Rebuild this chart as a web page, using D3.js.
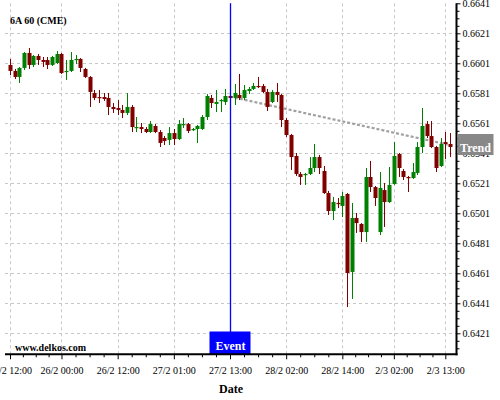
<!DOCTYPE html>
<html><head><meta charset="utf-8">
<script src="https://cdnjs.cloudflare.com/ajax/libs/d3/7.8.5/d3.min.js"></script>
<style>
body{margin:0;background:#fff}
svg{display:block}
text{font-family:"Liberation Serif","Times New Roman",serif}
</style>
</head><body>
<svg id="c" width="500" height="400"></svg>
<script>
// ---- data (hourly candles, index 0..94) ----
const openV=[.65999,.65959,.65919,.65979,.66079,.65999,.66059,.66032,.66032,.65999,
.66012,.66072,.65952,.65959,.66032,.66039,.65972,.65919,.65812,.65785,
.65785,.65779,.65719,.65712,.65699,.65679,.65719,.65579,.65585,.65572,
.65552,.65592,.65552,.65512,.65499,.65545,.65505,.65599,.65605,.65565,
.65572,.65572,.65652,.65779,.65739,.65759,.65752,.65792,.65779,.65799,
.65779,.65825,.65839,.65859,.65859,.65819,.65752,.65819,.65799,.65632,
.65532,.65392,.65272,.65265,.65272,.65312,.65385,.65292,.65145,.65025,
.65079,.65059,.65139,.64619,.64979,.64939,.64885,.65252,.65185,.64885,
.65165,.65085,.65205,.65405,.65292,.65252,.65245,.65279,.65452,.65605,
.65525,.65452,.65325,.65485,.65472];
const highV=[.66039,.65972,.65985,.66085,.66112,.66065,.66072,.66052,.66052,.66059,
.66092,.66079,.66032,.66085,.66065,.66045,.65979,.65925,.65832,.65832,
.65812,.65812,.65745,.65765,.65732,.65812,.65732,.65652,.65612,.65585,
.65625,.65605,.65565,.65525,.65585,.65572,.65632,.65645,.65612,.65579,
.65599,.65665,.65805,.65799,.65832,.65772,.65839,.65799,.65872,.65939,
.65865,.65852,.65879,.65919,.65872,.65839,.65832,.65879,.65805,.65645,
.65539,.65412,.65285,.65279,.65385,.65472,.65399,.65325,.65159,.65119,
.65112,.65152,.65145,.65079,.65012,.64945,.65312,.65359,.65192,.65285,
.65212,.65319,.65485,.65412,.65305,.65259,.65345,.65485,.65712,.65625,
.65625,.65459,.65512,.65552,.65545];
const lowV=[.65932,.65905,.65879,.65965,.65972,.65985,.65999,.65985,.65972,.65992,
.66005,.65939,.65899,.65952,.66005,.65952,.65912,.65719,.65765,.65745,
.65759,.65665,.65679,.65665,.65645,.65665,.65552,.65552,.65545,.65545,
.65545,.65545,.65452,.65465,.65465,.65465,.65499,.65579,.65545,.65559,
.65479,.65565,.65632,.65712,.65685,.65685,.65732,.65772,.65732,.65765,
.65765,.65805,.65832,.65845,.65812,.65692,.65745,.65752,.65585,.65519,
.65299,.65259,.65199,.65199,.65265,.65285,.65272,.65139,.64999,.64965,
.65045,.64985,.64385,.64439,.64879,.64819,.64819,.65152,.65059,.64865,
.64919,.65079,.65199,.65252,.65232,.65152,.65239,.65265,.65412,.65512,
.65445,.65285,.65319,.65372,.65385];
const closeV=[.65959,.65919,.65979,.66079,.65999,.66059,.66032,.66019,.65999,.66052,
.66072,.65945,.65959,.66032,.66039,.65979,.65919,.65819,.65779,.65779,
.65772,.65719,.65705,.65699,.65679,.65719,.65585,.65585,.65572,.65552,
.65605,.65552,.65479,.65492,.65545,.65505,.65605,.65605,.65559,.65572,
.65592,.65652,.65792,.65745,.65752,.65765,.65792,.65779,.65812,.65779,
.65832,.65839,.65859,.65852,.65819,.65719,.65819,.65799,.65632,.65532,
.65385,.65272,.65252,.65272,.65312,.65385,.65312,.65145,.65025,.65085,
.65072,.65125,.64612,.64979,.64945,.64885,.65252,.65185,.65112,.65179,
.65085,.65199,.65392,.65312,.65252,.65245,.65285,.65452,.65592,.65525,
.65452,.65312,.65472,.65472,.65452];

const xTickIndex=[0,11,23,35,47,59,71,82,93];
const xTickLabels=["25/2 12:00","26/2 00:00","26/2 12:00","27/2 01:00","27/2 13:00","28/2 02:00","28/2 14:00","2/3 02:00","2/3 13:00"];
const yTickValues=[0.6421,0.6441,0.6461,0.6481,0.6501,0.6521,0.6541,0.6561,0.6581,0.6601,0.6621,0.6641];
const eventIndex=47;
const trendIndex=[47,94];
const trendValues=[0.65788,0.65465];

// ---- layout ----
const L=5, R=456.5, T=3.3, B=354.3;
const svg=d3.select("#c");
const x=d3.scaleLinear().domain([0,94]).range([10,450]);
const y=d3.scaleLinear().domain([0.6407,0.6641]).range([B,T]);

const grid=svg.append("g").attr("stroke","#c8c8c8").attr("stroke-dasharray","3,3").attr("stroke-width",1);
grid.selectAll("line.h").data(yTickValues.filter(v=>v<0.664)).join("line")
  .attr("x1",L).attr("x2",R).attr("y1",d=>Math.round(y(d))+0.5).attr("y2",d=>Math.round(y(d))+0.5);
grid.selectAll("line.v").data(xTickIndex).join("line")
  .attr("y1",T).attr("y2",B).attr("x1",d=>Math.round(x(d))+0.5).attr("x2",d=>Math.round(x(d))+0.5);

// trend
svg.append("path")
  .datum(trendIndex.map((d,i)=>[d,trendValues[i]]))
  .attr("d",d3.line().x(d=>x(d[0])).y(d=>y(d[1])))
  .attr("fill","none").attr("stroke","#a0a0a0").attr("stroke-width",2.2).attr("stroke-dasharray","3,2");

// candles
const data=openV.map((o,i)=>({i,o,h:highV[i],l:lowV[i],c:closeV[i]}));
const cg=svg.append("g");
const col=d=>d.c>=d.o?"#008000":"#800000";
cg.selectAll("line").data(data).join("line")
  .attr("x1",d=>Math.round(x(d.i))+0.5).attr("x2",d=>Math.round(x(d.i))+0.5)
  .attr("y1",d=>y(d.h)).attr("y2",d=>y(d.l)).attr("stroke",col).attr("stroke-width",1);
cg.selectAll("rect").data(data).join("rect")
  .attr("x",d=>Math.round(x(d.i))-1.5).attr("width",4)
  .attr("y",d=>y(Math.max(d.o,d.c)))
  .attr("height",d=>Math.max(1.2,Math.abs(y(d.o)-y(d.c))))
  .attr("fill",col);

// event
const ex=Math.round(x(eventIndex))+0.5;
svg.append("line").attr("x1",ex).attr("x2",ex).attr("y1",T).attr("y2",332)
  .attr("stroke","#0000ff").attr("stroke-width",1.3);
svg.append("rect").attr("x",ex-21).attr("y",331.5).attr("width",41).attr("height",23).attr("fill","#0000ff");
svg.append("text").attr("x",ex).attr("y",350).attr("text-anchor","middle")
  .attr("font-size",12).attr("font-weight","bold").attr("fill","#fff").text("Event");

// right axis
const yMinor=d3.range(0,47).map(k=>+(0.6411+k*0.0005).toFixed(4)).filter(v=>v<=0.6641 && !yTickValues.includes(v));
const ra=svg.append("g").attr("transform",`translate(${R},0)`);
ra.call(d3.axisRight(y).tickValues(yMinor).tickSize(3).tickFormat("")).select(".domain").remove();
const rb=svg.append("g").attr("transform",`translate(${R},0)`);
rb.call(d3.axisRight(y).tickValues(yTickValues).tickSize(4).tickPadding(2).tickFormat(d3.format(".4f")));
rb.select(".domain").remove();
rb.selectAll("text").attr("font-size",10).attr("font-family","'Liberation Serif','Times New Roman',serif").attr("fill","#000");
svg.selectAll(".tick line").attr("stroke","#000");
svg.append("line").attr("x1",R).attr("x2",R).attr("y1",T).attr("y2",B+1).attr("stroke","#000").attr("stroke-width",2);

// bottom axis
const xMinor=[];
for(let k=0;k<xTickIndex.length-1;k++){const a=xTickIndex[k],b=xTickIndex[k+1];for(let j=1;j<4;j++)xMinor.push(a+(b-a)*j/4);}
const ba=svg.append("g").attr("transform",`translate(0,${B})`);
ba.call(d3.axisBottom(x).tickValues(xMinor).tickSize(3).tickFormat("")).select(".domain").remove();
const bb=svg.append("g").attr("transform",`translate(0,${B})`);
bb.call(d3.axisBottom(x).tickValues(xTickIndex).tickSize(5).tickFormat((d,i)=>xTickLabels[i]));
bb.select(".domain").remove();
bb.selectAll("text").attr("font-size",10).attr("font-family","'Liberation Serif','Times New Roman',serif")
  .attr("fill","#000").attr("dy",null).attr("y",19.7);
svg.selectAll(".tick line").attr("stroke","#000");
svg.append("line").attr("x1",L).attr("x2",R+1).attr("y1",B).attr("y2",B).attr("stroke","#000").attr("stroke-width",2);

// trend label
svg.append("rect").attr("x",R+1).attr("y",134).attr("width",36).attr("height",21).attr("fill","#888");
svg.append("text").attr("x",R+19).attr("y",152).attr("text-anchor","middle")
  .attr("font-size",12).attr("font-weight","bold").attr("fill","#fff").text("Trend");

// texts
svg.append("text").attr("x",10).attr("y",23.5).attr("font-size",10).attr("font-weight","bold").text("6A 60 (CME)");
svg.append("text").attr("x",15).attr("y",351).attr("font-size",10).attr("font-weight","bold").text("www.delkos.com");
svg.append("text").attr("x",231).attr("y",393).attr("text-anchor","middle").attr("font-size",12).attr("font-weight","bold").text("Date");
</script>
</body></html>
